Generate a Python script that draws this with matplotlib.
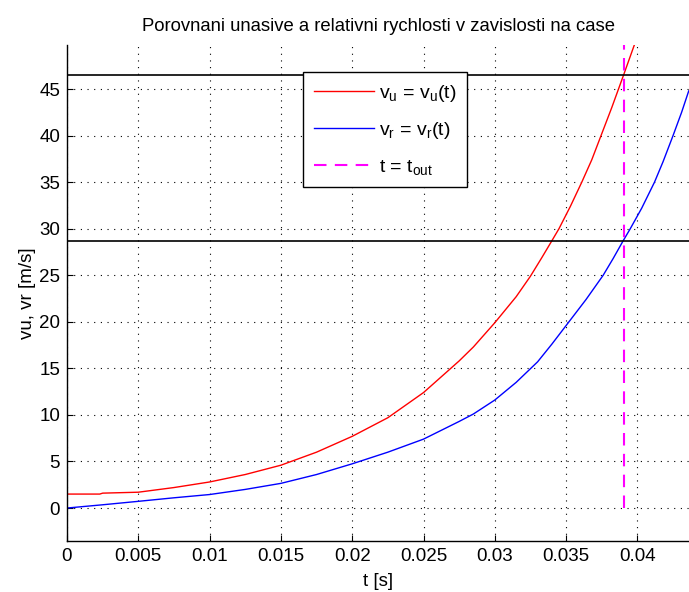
import matplotlib

matplotlib.use("Agg")
import matplotlib.pyplot as plt  # noqa: E402

plt.rcParams["font.family"] = ["Liberation Sans", "DejaVu Sans"]
plt.rcParams["mathtext.default"] = "regular"

# odectene hodnoty unasive (vu) a relativni (vr) rychlosti
t_u = [0.0, 0.0023, 0.0025, 0.005, 0.0075, 0.01, 0.0125, 0.015, 0.0175, 0.02,
       0.0225, 0.025, 0.0275, 0.0285, 0.03, 0.0315, 0.0325, 0.0333, 0.034,
       0.0345, 0.0353, 0.0361, 0.0368, 0.03745, 0.0382, 0.03903, 0.0398]
v_u = [1.5, 1.5, 1.6, 1.7, 2.2, 2.8, 3.6, 4.6, 6.0, 7.7,
       9.7, 12.4, 15.8, 17.3, 19.9, 22.7, 24.9, 26.9, 28.7,
       30.0, 32.4, 35.0, 37.4, 40.0, 43.0, 46.5, 49.8]

t_r = [0.0, 0.0025, 0.005, 0.0075, 0.01, 0.0125, 0.015, 0.0175, 0.02,
       0.0225, 0.025, 0.0275, 0.0285, 0.03, 0.0315, 0.033, 0.034, 0.0352,
       0.0364, 0.0376, 0.0383, 0.039, 0.0395, 0.0403, 0.0412, 0.0418,
       0.0425, 0.0431, 0.0436]
v_r = [0.0, 0.35, 0.72, 1.1, 1.45, 2.0, 2.65, 3.6, 4.75,
       6.0, 7.4, 9.3, 10.1, 11.6, 13.5, 15.7, 17.6, 20.0,
       22.4, 25.0, 26.8, 28.7, 30.0, 32.2, 35.0, 37.2,
       40.0, 42.5, 44.8]

t_out = 0.03906
vu_out = 46.5
vr_out = 28.7

x_ticks = [0, 0.005, 0.01, 0.015, 0.02, 0.025, 0.03, 0.035, 0.04]
x_labels = ["0", "0.005", "0.01", "0.015", "0.02", "0.025", "0.03", "0.035", "0.04"]
y_ticks = [0, 5, 10, 15, 20, 25, 30, 35, 40, 45]

fig = plt.figure(figsize=(6.89, 5.92), dpi=100)
ax = fig.add_axes([67 / 689, 1 - 541 / 592, 1 - 67 / 689, (541 - 45) / 592])

ax.plot(t_u, v_u, color="#ff0000", linewidth=1.0, label="$v_u$ = $v_u$(t)")
ax.plot(t_r, v_r, color="#0000ff", linewidth=1.0, label="$v_r$ = $v_r$(t)")
ax.plot([t_out, t_out], [0, 50], color="#ff00ff", linestyle=(0, (6, 4)),
        linewidth=1.5, label="t = $t_{out}$")
ax.axhline(vu_out, color="black", linewidth=1.2)
ax.axhline(vr_out, color="black", linewidth=1.2)

ax.set_xlim(0, (689 - 67) / 14260)
ax.set_ylim(-3.54, 49.73)
ax.set_xticks(x_ticks)
ax.set_xticklabels(x_labels)
ax.set_yticks(y_ticks)
ax.tick_params(direction="in", length=4, labelsize=13.5, pad=5, colors="black")
ax.grid(True, color="black", linestyle=(0, (1, 5)), linewidth=0.8)
for side in ("top", "right"):
    ax.spines[side].set_visible(False)
ax.spines["left"].set_linewidth(1.0)
ax.spines["bottom"].set_linewidth(1.0)

ax.set_xlabel("t [s]", fontsize=13.5, labelpad=6)
ax.set_ylabel("vu, vr [m/s]", fontsize=13.5, labelpad=2)
ax.set_title("Porovnani unasive a relativni rychlosti v zavislosti na case",
             fontsize=13.3, pad=10)

leg = ax.legend(loc="upper left", bbox_to_anchor=(303 / 689, 1 - 72 / 592),
                bbox_transform=fig.transFigure, borderaxespad=0,
                fontsize=14, frameon=True, fancybox=False, framealpha=1.0,
                edgecolor="black", handlelength=3.1, handletextpad=0.25,
                borderpad=0.55, labelspacing=0.85)
leg.get_frame().set_linewidth(1.0)

fig.savefig("out.png", dpi=100)
